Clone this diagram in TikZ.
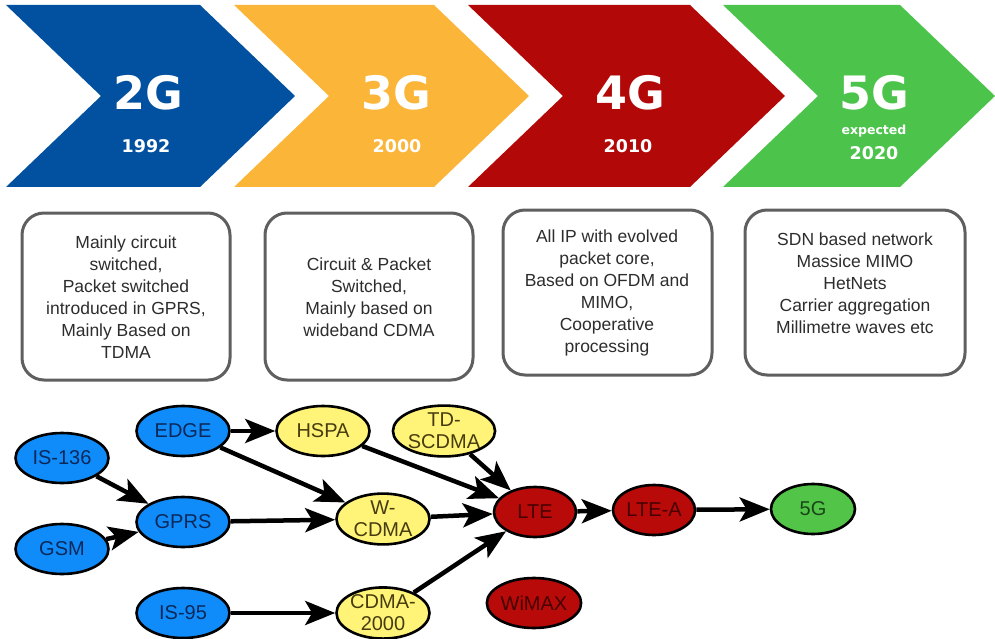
\documentclass[tikz,border=0pt]{standalone}
\usepackage{fontspec}
\setmainfont{Liberation Sans}
\newfontfamily\headfont{DejaVu Sans}
\usetikzlibrary{shapes.geometric,arrows.meta}
\definecolor{gblue}{RGB}{2,80,160}
\definecolor{gyellow}{RGB}{251,181,56}
\definecolor{gred}{RGB}{178,8,8}
\definecolor{ggreen}{RGB}{76,196,76}
\definecolor{nblue}{RGB}{16,140,250}
\definecolor{nyellow}{RGB}{255,244,120}
\definecolor{nred}{RGB}{185,10,10}
\definecolor{ngreen}{RGB}{82,196,72}
\definecolor{boxline}{RGB}{95,95,95}
\definecolor{boxtext}{RGB}{45,45,45}
\tikzset{
  biglabel/.style={text=white,font=\headfont\fontsize{46}{50}\selectfont\bfseries},
  yearlabel/.style={text=white,font=\headfont\fontsize{17.5}{20}\selectfont\bfseries},
  infobox/.style={draw=boxline,line width=3pt,rounded corners=22pt,fill=white},
  infotext/.style={text=boxtext,align=center,font=\fontsize{17.5}{22}\selectfont},
  tech/.style={ellipse,draw=black,line width=2.6pt,minimum width=93pt,minimum height=50pt,
    inner sep=0pt,align=center,font=\fontsize{20}{22}\selectfont},
  blueN/.style={tech,fill=nblue,text={rgb,255:red,10;green,40;blue,90}},
  yellowN/.style={tech,fill=nyellow,text={rgb,255:red,70;green,60;blue,15}},
  redN/.style={tech,fill=nred,text={rgb,255:red,70;green,0;blue,0},minimum width=82pt},
  greenN/.style={tech,fill=ngreen,text={rgb,255:red,25;green,70;blue,25},minimum width=84pt},
  link/.style={line width=4.5pt,-{Stealth[length=30pt,width=24pt,inset=7pt]}},
}
\begin{document}
\begin{tikzpicture}[x=1pt,y=-1pt]
\useasboundingbox (0,0) rectangle (995,639);
% generation chevrons
\fill[gblue]   (6,5) -- (200,5) -- (295,96) -- (200,187) -- (6,187) -- (101,96) -- cycle;
\fill[gyellow] (234,5) -- (434,5) -- (529,96) -- (434,187) -- (234,187) -- (329,96) -- cycle;
\fill[gred]    (468,5) -- (690,5) -- (785,96) -- (690,187) -- (468,187) -- (563,96) -- cycle;
\fill[ggreen]  (723,5) -- (900,5) -- (995,96) -- (900,187) -- (723,187) -- (818,96) -- cycle;
\node[biglabel] (g2) at (148,93) {2G};
\node[yearlabel] (y2) at (146,146) {1992};
\node[biglabel] (g3) at (396,93) {3G};
\node[yearlabel] (y3) at (397,146) {2000};
\node[biglabel] (g4) at (630,93) {4G};
\node[yearlabel] (y4) at (628,146) {2010};
\node[biglabel] (g5) at (874,93) {5G};
\node[text=white,font=\headfont\fontsize{12.5}{14}\selectfont\bfseries] (ex5) at (874,131) {expected};
\node[yearlabel] (y5) at (874,153) {2020};
% description boxes
\draw[infobox] (22,213) rectangle (230,380);
\draw[infobox] (265,213) rectangle (473,380);
\draw[infobox] (503,210) rectangle (712,375);
\draw[infobox] (745,210) rectangle (965,375);
\node[infotext] (d2) at (126,297) {Mainly circuit\\switched,\\Packet switched\\introduced in GPRS,\\Mainly Based on\\TDMA};
\node[infotext] (d3) at (369,297) {Circuit \& Packet\\Switched,\\Mainly based on\\wideband CDMA};
\node[infotext] (d4) at (607,293) {All IP with evolved\\packet core,\\Based on OFDM and\\MIMO,\\Cooperative\\processing};
\node[infotext] (d5) at (855,283) {SDN based network\\Massice MIMO\\HetNets\\Carrier aggregation\\Millimetre waves etc};
% technology graph
\node[blueN] (is136) at (62,458) {IS-136};
\node[blueN] (gsm) at (62,549) {GSM};
\node[blueN] (edge) at (183,431) {EDGE};
\node[blueN] (gprs) at (183,522) {GPRS};
\node[blueN] (is95) at (183,613) {IS-95};
\node[yellowN] (hspa) at (323,431) {HSPA};
\node[yellowN] (wcdma) at (383,519) {W-\\CDMA};
\node[yellowN] (cdma) at (383,613) {CDMA-\\2000};
\node[yellowN,minimum width=83pt] (tds) at (444,431) {TD-\\SCDMA};
\node[redN] (lte) at (535,512) {LTE};
\node[redN] (ltea) at (654,510) {LTE-A};
\node[greenN] (n5g) at (813,509) {5G};
\node[redN] (wimax) at (534,603) {WiMAX};
\draw[link] (is136) -- (gprs);
\draw[link] (gsm) -- (gprs);
\draw[link] (edge) -- (hspa);
\draw[link] (edge) -- (wcdma);
\draw[link] (gprs) -- (wcdma);
\draw[link] (is95) -- (cdma);
\draw[link] (hspa) -- (lte);
\draw[link] (tds) -- (lte);
\draw[link] (wcdma) -- (lte);
\draw[link] (cdma) -- (lte);
\draw[link] (lte) -- (ltea);
\draw[link] (ltea) -- (n5g);
\end{tikzpicture}
\end{document}
